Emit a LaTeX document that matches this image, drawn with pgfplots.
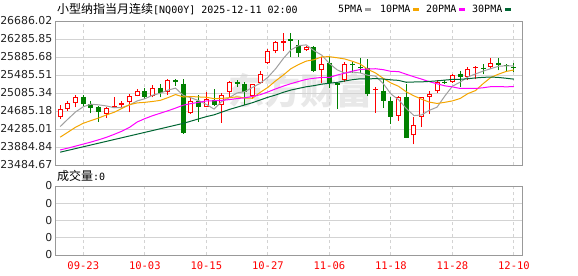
\documentclass[border=0pt]{standalone}
\usepackage{pgfplots}
\usepackage{pgfplotstable}
\pgfplotsset{compat=1.18}
\usepackage{fontspec}
\setmainfont{DejaVu Sans}
\newfontfamily\mono{DejaVu Sans Mono}
\newfontfamily\cjk{Noto Sans CJK SC}
\definecolor{upred}{RGB}{255,0,0}
\definecolor{dngreen}{RGB}{0,128,0}
\definecolor{maA}{RGB}{160,160,160}
\definecolor{maB}{RGB}{245,166,0}
\definecolor{maC}{RGB}{255,0,255}
\definecolor{maD}{RGB}{0,102,51}
\definecolor{gridc}{RGB}{211,211,211}
\definecolor{framec}{RGB}{153,153,153}
\definecolor{labc}{RGB}{34,34,34}

% position, open, high, low, close
\newcommand{\candleup}[5]{%
  \addplot[upred, line width=1bp, mark=none] coordinates {(#1,#4) (#1,#3)};
  \addplot[upred, line width=5bp, mark=none] coordinates {(#1,#2) (#1,#5)};
  \addplot[white, line width=3bp, mark=none, shorten <=1bp, shorten >=1bp] coordinates {(#1,#2) (#1,#5)};}
\newcommand{\candleupthin}[5]{%
  \addplot[upred, line width=1bp, mark=none] coordinates {(#1,#4) (#1,#3)};
  \addplot[upred, line width=5bp, mark=none] coordinates {(#1,#2) (#1,#5)};}
\newcommand{\candledn}[5]{%
  \addplot[dngreen, line width=1bp, mark=none] coordinates {(#1,#4) (#1,#3)};
  \addplot[dngreen, line width=5bp, mark=none] coordinates {(#1,#2) (#1,#5)};}

\pgfplotstableread{
i ma5 ma10 ma20 ma30
0 24340 24104 23820 23770
1 24505 24214 23860 23810
2 24665 24325 23905 23850
3 24780 24413 23950 23890
4 24837 24472 23995 23930
5 24822 24530 24045 23970
6 24798 24597 24100 24010
7 24759 24656 24165 24050
8 24762 24740 24235 24090
9 24816 24826 24320 24130
10 24909 24865 24440 24170
11 24957 24878 24515 24210
12 25035 24897 24580 24250
13 25079 24921 24635 24290
14 25149 24982 24690 24330
15 25193 25051 24750 24370
16 25034 24996 24815 24410
17 24978 25007 24850 24460
18 24916 24998 24878 24510
19 24832 24990 24908 24560
20 24728 24960 24913 24600
21 24898 24966 24922 24660
22 24984 24981 24939 24720
23 25087 25001 24961 24770
24 25116 24974 24978 24820
25 25209 24968 25009 24870
26 25300 25099 25047 24930
27 25435 25210 25108 24990
28 25622 25354 25176 25040
29 25850 25483 25237 25100
30 26044 25626 25293 25151
31 26138 25719 25342 25188
32 26155 25795 25388 25224
33 26028 25825 25413 25249
34 25928 25889 25432 25282
35 25742 25893 25431 25304
36 25601 25869 25484 25321
37 25528 25842 25526 25353
38 25552 25790 25572 25381
39 25531 25730 25606 25401
40 25480 25611 25619 25399
41 25461 25531 25625 25405
42 25296 25412 25604 25396
43 25065 25309 25567 25378
44 24936 25234 25561 25366
45 24741 25111 25502 25324
46 24583 25022 25446 25330
47 24598 24947 25394 25333
48 24701 24883 25337 25343
49 24770 24853 25291 25355
50 25015 24878 25245 25372
51 25236 24910 25221 25387
52 25327 24963 25187 25390
53 25441 25071 25190 25402
54 25509 25139 25186 25421
55 25572 25294 25202 25433
56 25627 25432 25227 25441
57 25680 25504 25225 25431
58 25690 25565 25224 25413
59 25686 25597 25225 25393
}\matable

\begin{document}
\begin{tikzpicture}
\fill[white] (0,0) rectangle (578bp,-276bp);
\path[use as bounding box] (0,0) rectangle (578bp,-276bp);

% watermark
\node[text=black!9, font=\cjk\bfseries\fontsize{36bp}{36bp}\selectfont] at (300bp,-91bp) {东方财富};

% title
\node[anchor=west, inner sep=0pt] at (57bp,-9.5bp) {{\cjk\fontsize{12bp}{12bp}\selectfont 小型纳指当月连续}{\mono\fontsize{10bp}{12bp}\selectfont [NQ00Y] 2025-12-11 02:00}};

% legend
\node[anchor=west, inner sep=0pt, font=\mono\fontsize{10bp}{12bp}\selectfont] at (338bp,-9bp) {5PMA};
\fill[maA] (365bp,-7.5bp) rectangle (371bp,-10.5bp);
\node[anchor=west, inner sep=0pt, font=\mono\fontsize{10bp}{12bp}\selectfont] at (380bp,-9bp) {10PMA};
\fill[maB] (413bp,-7.5bp) rectangle (419bp,-10.5bp);
\node[anchor=west, inner sep=0pt, font=\mono\fontsize{10bp}{12bp}\selectfont] at (426bp,-9bp) {20PMA};
\fill[maC] (459bp,-7.5bp) rectangle (465bp,-10.5bp);
\node[anchor=west, inner sep=0pt, font=\mono\fontsize{10bp}{12bp}\selectfont] at (472bp,-9bp) {30PMA};
\fill[maD] (505bp,-7.5bp) rectangle (511bp,-10.5bp);

\begin{axis}[
  at={(55bp,-21bp)}, anchor=north west, scale only axis,
  width=467bp, height=144bp,
  xmin=-0.68, xmax=60.05, ymin=23484.66, ymax=26686.03,
  scaled ticks=false,
  axis line style={framec, line width=1bp},
  xtick={3,11,19,27,35,43,51,59}, xticklabels={},
  ytick={23484.67,23884.84,24285.01,24685.18,25085.34,25485.51,25885.68,26285.85,26686.02},
  yticklabels={23484.67,23884.84,24285.01,24685.18,25085.34,25485.51,25885.68,26285.85,26686.02},
  major tick length=0,
  xmajorgrids, ymajorgrids,
  x grid style={gridc, dash pattern=on 3bp off 3bp, line width=1bp},
  y grid style={gridc, line width=1bp},
  yticklabel style={font=\fontsize{10.9bp}{12bp}\selectfont, text=labc, anchor=east, inner sep=0pt, xshift=-2.5bp},
]
\candleup{0}{24545}{24825}{24508}{24729}
\candleup{1}{24729}{24898}{24692}{24862}
\candleup{2}{24854}{25038}{24766}{25001}
\candledn{3}{25001}{25038}{24781}{24840}
\candledn{4}{24840}{24913}{24634}{24751}
\candledn{5}{24766}{24803}{24450}{24656}
\candleup{6}{24619}{24781}{24530}{24744}
\candleup{7}{24751}{24987}{24745}{24803}
\candleupthin{8}{24815}{24913}{24729}{24854}
\candleup{9}{24876}{25060}{24656}{25023}
\candleup{10}{25016}{25170}{25010}{25119}
\candledn{11}{25119}{25193}{24950}{24987}
\candleup{12}{25009}{25259}{24987}{25193}
\candledn{13}{25207}{25281}{24987}{25075}
\candleup{14}{25097}{25391}{25045}{25369}
\candledn{15}{25369}{25406}{25244}{25340}
\candledn{16}{25296}{25406}{24177}{24192}
\candleup{17}{24648}{24987}{24619}{24913}
\candledn{18}{24913}{25045}{24450}{24766}
\candleup{19}{24781}{25097}{24766}{24950}
\candledn{20}{24928}{25185}{24803}{24817}
\candleup{21}{24825}{25075}{24420}{25045}
\candleup{22}{25112}{25354}{24987}{25340}
\candledn{23}{25340}{25376}{25229}{25281}
\candledn{24}{25296}{25332}{24825}{25097}
\candleup{25}{25009}{25296}{24950}{25281}
\candleup{26}{25310}{25575}{25296}{25502}
\candleup{27}{25759}{26053}{25722}{26016}
\candleup{28}{26016}{26252}{25972}{26215}
\candleupthin{29}{26200}{26421}{26016}{26245}
\candledn{30}{26275}{26413}{25892}{26250}
\candledn{31}{26150}{26268}{25895}{25970}
\candleup{32}{26040}{26125}{26020}{26110}
\candledn{33}{26100}{26125}{25550}{25580}
\candleup{34}{25590}{25884}{25318}{25737}
\candledn{35}{25759}{25884}{25207}{25318}
\candledn{36}{25318}{25332}{24729}{25266}
\candleup{37}{25369}{25774}{25340}{25737}
\candledn{38}{25737}{25796}{25538}{25700}
\candledn{39}{25663}{25855}{25538}{25634}
\candledn{40}{25650}{25850}{25015}{25065}
\candleupthin{41}{25148}{25229}{24641}{25170}
\candledn{42}{25134}{25406}{24751}{24913}
\candledn{43}{24913}{24987}{24398}{24545}
\candleup{44}{24582}{25009}{24472}{24987}
\candledn{45}{24987}{25296}{24080}{24089}
\candleup{46}{24141}{24545}{23942}{24383}
\candleup{47}{24560}{25001}{24325}{24987}
\candleup{48}{25001}{25134}{24619}{25060}
\candleup{49}{25119}{25376}{25075}{25332}
\candledn{50}{25340}{25375}{25290}{25315}
\candleup{51}{25340}{25516}{25318}{25487}
\candledn{52}{25516}{25575}{25222}{25443}
\candleup{53}{25443}{25663}{25369}{25627}
\candleupthin{54}{25634}{25685}{25391}{25671}
\candledn{55}{25649}{25737}{25502}{25634}
\candleup{56}{25663}{25869}{25612}{25759}
\candledn{57}{25759}{25869}{25590}{25708}
\candledn{58}{25700}{25737}{25575}{25678}
\candledn{59}{25663}{25759}{25560}{25649}
\addplot[maA, line width=1bp, mark=none] table[x=i, y=ma5] {\matable};
\addplot[maB, line width=1bp, mark=none] table[x=i, y=ma10] {\matable};
\addplot[maC, line width=1bp, mark=none] table[x=i, y=ma20] {\matable};
\addplot[maD, line width=1bp, mark=none] table[x=i, y=ma30] {\matable};
\end{axis}

\node[anchor=west, inner sep=0pt] at (57bp,-176bp) {{\cjk\fontsize{12bp}{12bp}\selectfont 成交量}{\mono\fontsize{10bp}{12bp}\selectfont :0}};

\begin{axis}[
  at={(55bp,-186bp)}, anchor=north west, scale only axis,
  width=467bp, height=69bp,
  xmin=-0.68, xmax=60.05, ymin=0, ymax=4,
  scaled ticks=false,
  axis line style={framec, line width=1bp},
  xtick={3,11,19,27,35,43,51,59},
  xticklabels={09-23,10-03,10-15,10-27,11-06,11-18,11-28,12-10},
  ytick={0,1,2,3,4}, yticklabels={0,0,0,0,0},
  major tick length=0,
  xmajorgrids, ymajorgrids,
  x grid style={gridc, dash pattern=on 3bp off 3bp, line width=1bp},
  y grid style={gridc, line width=1bp},
  yticklabel style={font=\fontsize{10.9bp}{12bp}\selectfont, text=labc, anchor=east, inner sep=0pt, xshift=-2.5bp},
  xticklabel style={font=\mono\fontsize{10.5bp}{12bp}\selectfont, text=upred, inner sep=0pt, yshift=-6.7bp},
]
\addplot[draw=none, mark=none] coordinates {(0,0) (10,0) (20,0) (30,0) (40,0) (50,0) (59,0)};
\end{axis}
\end{tikzpicture}
\end{document}
